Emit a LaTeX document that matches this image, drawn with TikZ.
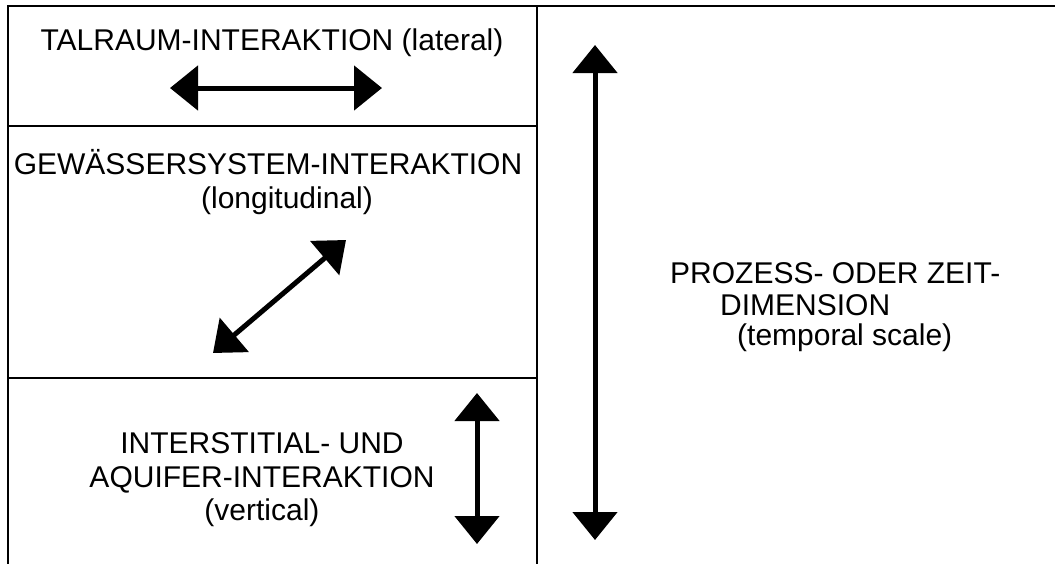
\documentclass[tikz,border=0pt]{standalone}
\usepackage{fontspec}
\setmainfont{Liberation Sans}
\usetikzlibrary{arrows.meta}
\begin{document}
\begin{tikzpicture}[x=1pt,y=-1pt,
  frame/.style={line width=2pt,line cap=rect},
  label/.style={inner sep=0pt,font=\fontsize{30}{33}\selectfont},
  dblarrow/.style={line width=5pt,
    {Triangle[length=28pt,width=44pt]}-{Triangle[length=28pt,width=44pt]}}]
  \useasboundingbox (0,0) rectangle (1055,563);
  \fill[white] (0,0) rectangle (1055,563);

  % table frame
  \coordinate (tl) at (8,6);
  \coordinate (tr) at (1055,6);
  \coordinate (bl) at (8,563);
  \coordinate (mt) at (537,6);
  \coordinate (mb) at (537,563);
  \coordinate (r1l) at (8,126);
  \coordinate (r1r) at (537,126);
  \coordinate (r2l) at (8,378);
  \coordinate (r2r) at (537,378);
  \draw[frame] (tr) -- (tl) -- (bl);
  \draw[frame] (mt) -- (mb);
  \draw[frame] (r1l) -- (r1r);
  \draw[frame] (r2l) -- (r2r);

  % lateral
  \node[label,anchor=base] (tal) at (272,50) {TALRAUM-INTERAKTION (lateral)};
  \coordinate (latA) at (170,88);
  \coordinate (latB) at (382,88);
  \draw[dblarrow] (latA) -- (latB);

  % longitudinal
  \node[label,anchor=base] (gew) at (268,174) {GEWÄSSERSYSTEM-INTERAKTION};
  \node[label,anchor=base] (lon) at (287,208) {(longitudinal)};
  \coordinate (lonA) at (213,353);
  \coordinate (lonB) at (346,240);
  \draw[dblarrow] (lonA) -- (lonB);

  % vertical
  \node[label,anchor=base] (int) at (262,453) {INTERSTITIAL- UND};
  \node[label,anchor=base] (aqu) at (262,487) {AQUIFER-INTERAKTION};
  \node[label,anchor=base] (ver) at (262,520) {(vertical)};
  \coordinate (verA) at (477,393);
  \coordinate (verB) at (477,544);
  \draw[dblarrow] (verA) -- (verB);

  % temporal
  \coordinate (timA) at (595,45);
  \coordinate (timB) at (595,540);
  \draw[dblarrow] (timA) -- (timB);
  \node[label,anchor=base west] (pro) at (670,283) {PROZESS- ODER ZEIT-};
  \node[label,anchor=base west] (dim) at (720,315) {DIMENSION};
  \node[label,anchor=base west] (tem) at (737,345) {(temporal scale)};
\end{tikzpicture}
\end{document}
